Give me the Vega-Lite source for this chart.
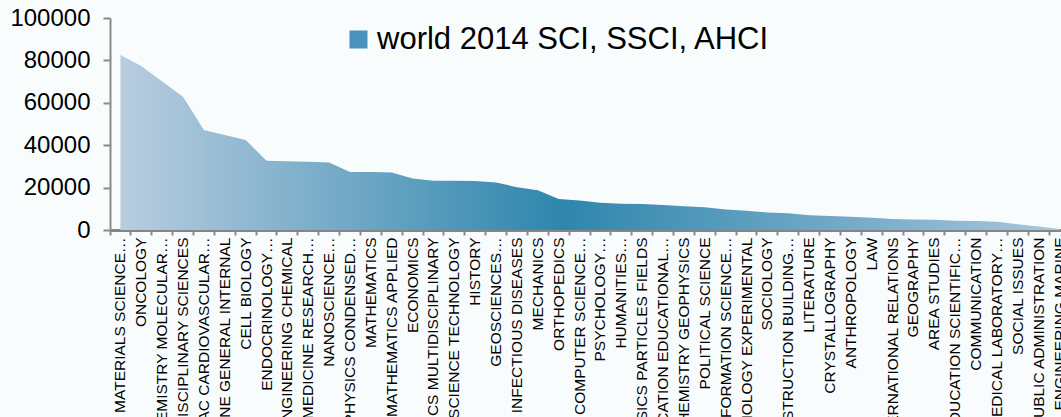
{
  "$schema": "https://vega.github.io/schema/vega-lite/v6.json",
  "autosize": "none",
  "padding": {"left": 110, "top": 18, "right": 0, "bottom": 187},
  "width": 960,
  "height": 212,
  "background": "#f8fcfd",
  "config": {
    "view": {"stroke": null},
    "font": "Liberation Sans"
  },
  "data": {
    "values": [
      {"cat": "MATERIALS SCIENCE…", "v": 82500, "series": "world 2014 SCI, SSCI, AHCI"},
      {"cat": "ONCOLOGY", "v": 77300, "series": "world 2014 SCI, SSCI, AHCI"},
      {"cat": "BIOCHEMISTRY MOLECULAR…", "v": 70100, "series": "world 2014 SCI, SSCI, AHCI"},
      {"cat": "MULTIDISCIPLINARY SCIENCES", "v": 62900, "series": "world 2014 SCI, SSCI, AHCI"},
      {"cat": "CARDIAC CARDIOVASCULAR…", "v": 47200, "series": "world 2014 SCI, SSCI, AHCI"},
      {"cat": "MEDICINE GENERAL INTERNAL", "v": 44800, "series": "world 2014 SCI, SSCI, AHCI"},
      {"cat": "CELL BIOLOGY", "v": 42500, "series": "world 2014 SCI, SSCI, AHCI"},
      {"cat": "ENDOCRINOLOGY…", "v": 32700, "series": "world 2014 SCI, SSCI, AHCI"},
      {"cat": "ENGINEERING CHEMICAL", "v": 32400, "series": "world 2014 SCI, SSCI, AHCI"},
      {"cat": "MEDICINE RESEARCH…", "v": 32200, "series": "world 2014 SCI, SSCI, AHCI"},
      {"cat": "NANOSCIENCE…", "v": 31800, "series": "world 2014 SCI, SSCI, AHCI"},
      {"cat": "PHYSICS CONDENSED…", "v": 27400, "series": "world 2014 SCI, SSCI, AHCI"},
      {"cat": "MATHEMATICS", "v": 27300, "series": "world 2014 SCI, SSCI, AHCI"},
      {"cat": "MATHEMATICS APPLIED", "v": 27100, "series": "world 2014 SCI, SSCI, AHCI"},
      {"cat": "ECONOMICS", "v": 24300, "series": "world 2014 SCI, SSCI, AHCI"},
      {"cat": "PHYSICS MULTIDISCIPLINARY", "v": 23200, "series": "world 2014 SCI, SSCI, AHCI"},
      {"cat": "FOOD SCIENCE TECHNOLOGY", "v": 23200, "series": "world 2014 SCI, SSCI, AHCI"},
      {"cat": "HISTORY", "v": 23100, "series": "world 2014 SCI, SSCI, AHCI"},
      {"cat": "GEOSCIENCES…", "v": 22400, "series": "world 2014 SCI, SSCI, AHCI"},
      {"cat": "INFECTIOUS DISEASES", "v": 20200, "series": "world 2014 SCI, SSCI, AHCI"},
      {"cat": "MECHANICS", "v": 18800, "series": "world 2014 SCI, SSCI, AHCI"},
      {"cat": "ORTHOPEDICS", "v": 14600, "series": "world 2014 SCI, SSCI, AHCI"},
      {"cat": "COMPUTER SCIENCE…", "v": 13900, "series": "world 2014 SCI, SSCI, AHCI"},
      {"cat": "PSYCHOLOGY…", "v": 12900, "series": "world 2014 SCI, SSCI, AHCI"},
      {"cat": "HUMANITIES…", "v": 12400, "series": "world 2014 SCI, SSCI, AHCI"},
      {"cat": "PHYSICS PARTICLES FIELDS", "v": 12300, "series": "world 2014 SCI, SSCI, AHCI"},
      {"cat": "EDUCATION EDUCATIONAL…", "v": 11800, "series": "world 2014 SCI, SSCI, AHCI"},
      {"cat": "GEOCHEMISTRY GEOPHYSICS", "v": 11200, "series": "world 2014 SCI, SSCI, AHCI"},
      {"cat": "POLITICAL SCIENCE", "v": 10700, "series": "world 2014 SCI, SSCI, AHCI"},
      {"cat": "INFORMATION SCIENCE…", "v": 9700, "series": "world 2014 SCI, SSCI, AHCI"},
      {"cat": "PSYCHOLOGY EXPERIMENTAL", "v": 9100, "series": "world 2014 SCI, SSCI, AHCI"},
      {"cat": "SOCIOLOGY", "v": 8200, "series": "world 2014 SCI, SSCI, AHCI"},
      {"cat": "CONSTRUCTION BUILDING…", "v": 7900, "series": "world 2014 SCI, SSCI, AHCI"},
      {"cat": "LITERATURE", "v": 6900, "series": "world 2014 SCI, SSCI, AHCI"},
      {"cat": "CRYSTALLOGRAPHY", "v": 6600, "series": "world 2014 SCI, SSCI, AHCI"},
      {"cat": "ANTHROPOLOGY", "v": 6200, "series": "world 2014 SCI, SSCI, AHCI"},
      {"cat": "LAW", "v": 5800, "series": "world 2014 SCI, SSCI, AHCI"},
      {"cat": "INTERNATIONAL RELATIONS", "v": 5200, "series": "world 2014 SCI, SSCI, AHCI"},
      {"cat": "GEOGRAPHY", "v": 5000, "series": "world 2014 SCI, SSCI, AHCI"},
      {"cat": "AREA STUDIES", "v": 4800, "series": "world 2014 SCI, SSCI, AHCI"},
      {"cat": "EDUCATION SCIENTIFIC…", "v": 4400, "series": "world 2014 SCI, SSCI, AHCI"},
      {"cat": "COMMUNICATION", "v": 4200, "series": "world 2014 SCI, SSCI, AHCI"},
      {"cat": "MEDICAL LABORATORY…", "v": 3900, "series": "world 2014 SCI, SSCI, AHCI"},
      {"cat": "SOCIAL ISSUES", "v": 2700, "series": "world 2014 SCI, SSCI, AHCI"},
      {"cat": "PUBLIC ADMINISTRATION", "v": 1600, "series": "world 2014 SCI, SSCI, AHCI"},
      {"cat": "ENGINEERING MARINE", "v": 500, "series": "world 2014 SCI, SSCI, AHCI"}
    ]
  },
  "encoding": {
    "x": {
      "field": "cat",
      "type": "nominal",
      "sort": null,
      "bandPosition": 0.5,
      "scale": {"type": "band", "paddingInner": 0, "paddingOuter": 0},
      "axis": {
        "title": null,
        "bandPosition": 0,
        "domainColor": "#858585",
        "domainWidth": 3,
        "tickColor": "#8a8a8a",
        "tickWidth": 2,
        "tickSize": 5,
        "labelAngle": -90,
        "labelAlign": "right",
        "labelBaseline": "middle",
        "labelFontSize": 15.5,
        "labelPadding": 2,
        "labelColor": "#000000",
        "labelLimit": 0,
        "labelOverlap": false
      }
    },
    "y": {
      "field": "v",
      "type": "quantitative",
      "scale": {"domain": [0, 100000], "nice": false},
      "axis": {
        "title": null,
        "values": [0, 20000, 40000, 60000, 80000, 100000],
        "format": "d",
        "grid": false,
        "domainColor": "#8a8a8a",
        "domainWidth": 2,
        "tickColor": "#8a8a8a",
        "tickWidth": 2,
        "tickSize": 7,
        "labelFontSize": 24,
        "labelPadding": 13,
        "labelColor": "#000000"
      }
    }
  },
  "layer": [
    {
      "mark": {
        "type": "area",
        "line": false,
        "fill": {
          "gradient": "linear",
          "x1": 0, "y1": 0, "x2": 1, "y2": 0,
          "stops": [
            {"offset": 0, "color": "#b8cde0"},
            {"offset": 0.47, "color": "#2e86ad"},
            {"offset": 1, "color": "#a9c6dc"}
          ]
        }
      }
    },
    {
      "mark": {"type": "area", "fillOpacity": 0, "opacity": 0},
      "encoding": {
        "color": {
          "field": "series",
          "type": "nominal",
          "scale": {"range": ["#4a93bc"]},
          "legend": {
            "title": null,
            "orient": "none",
            "legendX": 233,
            "legendY": 6,
            "symbolType": "square",
            "symbolSize": 324,
            "symbolOpacity": 1,
            "symbolFillColor": "#4a93bc",
            "symbolStrokeWidth": 0,
            "labelFontSize": 31,
            "labelColor": "#000000",
            "labelOffset": 3,
            "labelLimit": 0
          }
        }
      }
    }
  ]
}
